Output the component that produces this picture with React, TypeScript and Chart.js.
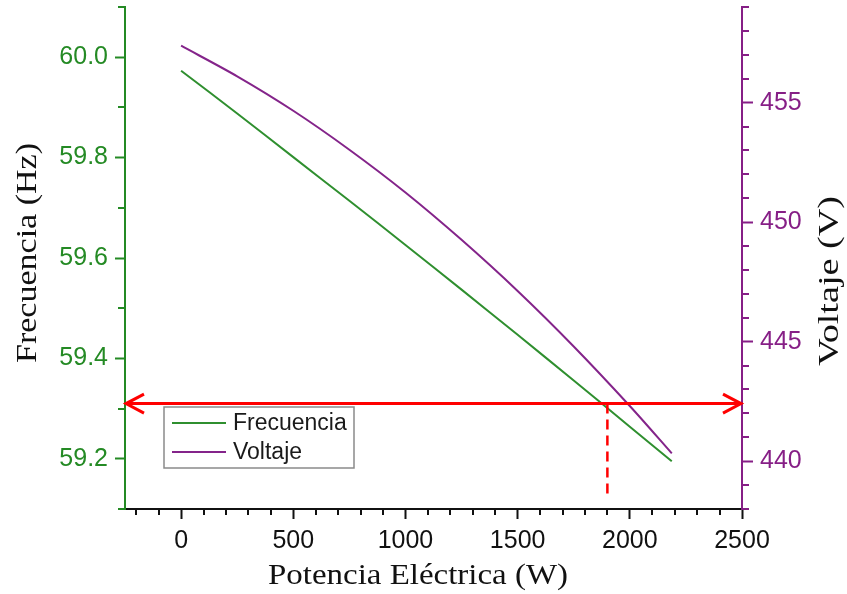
import React, { useEffect, useRef } from 'react';
import { Chart, registerables } from 'chart.js';

Chart.register(...registerables);

// ---- data ----
const potencia = [0, 250, 500, 750, 1000, 1250, 1500, 1750, 2000, 2187];
const frecuencia = [59.973, 59.888, 59.801, 59.714, 59.626, 59.537, 59.447, 59.356, 59.264, 59.195];
const voltaje = [457.38, 456.1, 454.66, 453.03, 451.24, 449.26, 447.12, 444.8, 442.31, 440.33];

const xMajorTicks = [0, 500, 1000, 1500, 2000, 2500];
const xMinorTicks = [-200, -100, 100, 200, 300, 400, 600, 700, 800, 900, 1100, 1200, 1300, 1400, 1600, 1700, 1800, 1900, 2100, 2200, 2300, 2400];
const fMajorTicks = [59.2, 59.4, 59.6, 59.8, 60.0];
const fMinorTicks = [59.1, 59.3, 59.5, 59.7, 59.9, 60.1];
const vMajorTicks = [440, 445, 450, 455];
const vMinorTicks = [438, 439, 441, 442, 443, 444, 446, 447, 448, 449, 451, 452, 453, 454, 456, 457, 458, 459];

const xRange = [-250, 2500];
const fRange = [59.1, 60.1];
const vRange = [438, 459];

// red annotation
const arrowFreq = 59.31;
const arrowFrom = -250;
const arrowTo = 2500;
const dashPower = 1900;
const dashFreqBottom = 59.125;

const xTitle = 'Potencia Eléctrica (W)';
const fTitle = 'Frecuencia (Hz)';
const vTitle = 'Voltaje (V)';

const GREEN = '#248a24';
const GREEN_LINE = '#2f8f2f';
const PURPLE = '#861f86';
const PURPLE_LINE = '#84248a';
const SANS = '"Liberation Sans", Arial, sans-serif';
const SERIF = '"Liberation Serif", "Times New Roman", serif';

function drawFitted(ctx: CanvasRenderingContext2D, text: string, cx: number, cy: number, rot: number, len: number, font: string, color: string) {
  ctx.save();
  ctx.font = font;
  ctx.fillStyle = color;
  ctx.textAlign = 'center';
  ctx.textBaseline = 'middle';
  ctx.translate(cx, cy);
  ctx.rotate(rot);
  const w = ctx.measureText(text).width;
  ctx.scale(len / w, 1);
  ctx.fillText(text, 0, 0);
  ctx.restore();
}

const marksPlugin = {
  id: 'marks',
  afterDatasetsDraw(chart: any) {
    const { ctx, scales } = chart;
    const xs = scales.x;
    const yf = scales.yF;
    const yA = yf.getPixelForValue(arrowFreq);
    const x0 = xs.getPixelForValue(arrowFrom);
    const x1 = xs.getPixelForValue(arrowTo);
    ctx.save();
    ctx.strokeStyle = '#ff0000';
    ctx.lineWidth = 3;
    ctx.lineJoin = 'miter';
    ctx.beginPath();
    ctx.moveTo(x0 + 2, yA);
    ctx.lineTo(x1 - 2, yA);
    ctx.stroke();
    ctx.beginPath();
    ctx.moveTo(x0 + 19, yA - 9.5);
    ctx.lineTo(x0 + 1, yA);
    ctx.lineTo(x0 + 19, yA + 9.5);
    ctx.stroke();
    ctx.beginPath();
    ctx.moveTo(x1 - 19, yA - 9.5);
    ctx.lineTo(x1 - 1, yA);
    ctx.lineTo(x1 - 19, yA + 9.5);
    ctx.stroke();
    const xd = xs.getPixelForValue(dashPower);
    ctx.lineWidth = 2.5;
    ctx.setLineDash([10, 6]);
    ctx.beginPath();
    ctx.moveTo(xd, yA);
    ctx.lineTo(xd, yf.getPixelForValue(dashFreqBottom));
    ctx.stroke();
    ctx.restore();
  },
  afterDraw(chart: any) {
    const { ctx, scales, chartArea } = chart;
    const xs = scales.x, yf = scales.yF, yv = scales.yV;
    ctx.save();
    ctx.lineWidth = 2;
    // minor ticks
    ctx.strokeStyle = '#111';
    xMinorTicks.forEach((v) => {
      const p = Math.round(xs.getPixelForValue(v));
      ctx.beginPath(); ctx.moveTo(p, chartArea.bottom); ctx.lineTo(p, chartArea.bottom + 6); ctx.stroke();
    });
    ctx.strokeStyle = GREEN;
    fMinorTicks.forEach((v) => {
      const p = Math.round(yf.getPixelForValue(v));
      ctx.beginPath(); ctx.moveTo(chartArea.left, p); ctx.lineTo(chartArea.left - 7, p); ctx.stroke();
    });
    ctx.strokeStyle = PURPLE;
    vMinorTicks.forEach((v) => {
      const p = Math.round(yv.getPixelForValue(v));
      ctx.beginPath(); ctx.moveTo(chartArea.right, p); ctx.lineTo(chartArea.right + 7, p); ctx.stroke();
    });
    ctx.restore();

    // axis titles
    drawFitted(ctx, xTitle, 418, 576, 0, 300, '30px ' + SERIF, '#111');
    drawFitted(ctx, fTitle, 28, 253, -Math.PI / 2, 220, '30px ' + SERIF, '#111');
    drawFitted(ctx, vTitle, 830, 281, -Math.PI / 2, 170, '30px ' + SERIF, '#111');

    // legend
    const lx = chartArea.left + 39;
    const ly = 407;
    ctx.save();
    ctx.fillStyle = '#ffffff';
    ctx.fillRect(lx, ly, 190, 61);
    ctx.strokeStyle = '#8a8a8a';
    ctx.lineWidth = 1.5;
    ctx.strokeRect(lx, ly, 190, 61);
    ctx.font = '23px ' + SANS;
    ctx.textBaseline = 'middle';
    ctx.textAlign = 'left';
    chart.data.datasets.forEach((ds: any, i: number) => {
      const yy = ly + 16 + i * 29;
      ctx.strokeStyle = ds.borderColor;
      ctx.lineWidth = 2;
      ctx.beginPath(); ctx.moveTo(lx + 8, yy); ctx.lineTo(lx + 62, yy); ctx.stroke();
      ctx.fillStyle = '#1a1a1a';
      ctx.fillText(ds.label, lx + 69, yy + 1);
    });
    ctx.restore();
  },
};

export default function App() {
  const ref = useRef<HTMLCanvasElement | null>(null);
  useEffect(() => {
    if (!ref.current) return;
    const chart = new Chart(ref.current, {
      type: 'line',
      data: {
        datasets: [
          {
            label: 'Frecuencia',
            data: potencia.map((p, i) => ({ x: p, y: frecuencia[i] })),
            borderColor: GREEN_LINE,
            borderWidth: 2,
            pointRadius: 0,
            tension: 0.3,
            yAxisID: 'yF',
          },
          {
            label: 'Voltaje',
            data: potencia.map((p, i) => ({ x: p, y: voltaje[i] })),
            borderColor: PURPLE_LINE,
            borderWidth: 2,
            pointRadius: 0,
            tension: 0.3,
            yAxisID: 'yV',
          },
        ],
      },
      options: {
        animation: false,
        responsive: true,
        maintainAspectRatio: false,
        layout: { padding: { top: 7, left: 0, right: 0, bottom: 0 } },
        plugins: { legend: { display: false }, tooltip: { enabled: false } },
        scales: {
          x: {
            type: 'linear',
            min: xRange[0],
            max: xRange[1],
            afterBuildTicks: (s: any) => { s.ticks = xMajorTicks.map((v) => ({ value: v })); },
            afterFit: (s: any) => { s.height = 85; s.paddingLeft = 0; s.paddingRight = 0; },
            border: { color: '#111', width: 2 },
            grid: { drawOnChartArea: false, drawTicks: true, tickLength: 10, tickWidth: 2, tickColor: '#111' },
            ticks: { color: '#111', font: { family: SANS, size: 25 }, padding: 7, maxRotation: 0, autoSkip: false, callback: (v: any) => String(v) },
          },
          yF: {
            type: 'linear',
            position: 'left',
            min: fRange[0],
            max: fRange[1],
            afterBuildTicks: (s: any) => { s.ticks = fMajorTicks.map((v) => ({ value: v })); },
            afterFit: (s: any) => { s.width = 125; s.paddingTop = 0; s.paddingBottom = 0; },
            border: { color: GREEN, width: 2 },
            grid: { drawOnChartArea: false, drawTicks: true, tickLength: 10, tickWidth: 2, tickColor: GREEN },
            ticks: { color: GREEN, font: { family: SANS, size: 25 }, padding: 7, autoSkip: false, callback: (v: any) => Number(v).toFixed(1) },
          },
          yV: {
            type: 'linear',
            position: 'right',
            min: vRange[0],
            max: vRange[1],
            afterBuildTicks: (s: any) => { s.ticks = vMajorTicks.map((v) => ({ value: v })); },
            afterFit: (s: any) => { s.width = 105; s.paddingTop = 0; s.paddingBottom = 0; },
            border: { color: PURPLE, width: 2 },
            grid: { drawOnChartArea: false, drawTicks: true, tickLength: 11, tickWidth: 2, tickColor: PURPLE },
            ticks: { color: PURPLE, font: { family: SANS, size: 25 }, padding: 7, autoSkip: false, callback: (v: any) => String(v) },
          },
        },
      },
      plugins: [marksPlugin],
    });
    return () => chart.destroy();
  }, []);
  return (
    <div style={{ position: 'absolute', left: 0, top: 0, width: 847, height: 594, background: '#fff' }}>
      <canvas ref={ref} />
    </div>
  );
}
